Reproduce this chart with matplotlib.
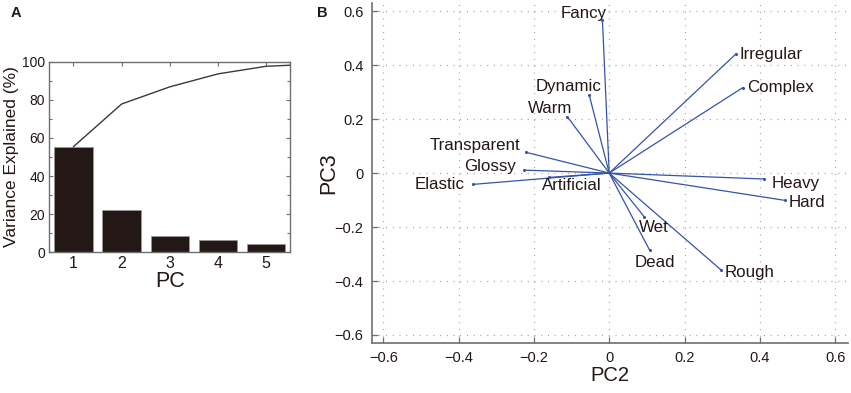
import matplotlib
matplotlib.use("Agg")
import matplotlib.pyplot as plt
from matplotlib.ticker import MultipleLocator

plt.rcParams['font.family'] = ['Liberation Sans', 'DejaVu Sans']

# ---- Panel A data ----
pcs = [1, 2, 3, 4, 5, 6]
variance = [55.4, 22.4, 8.8, 6.5, 4.1, 1.0]
cumulative = [55.4, 77.8, 86.8, 93.6, 97.6, 98.7]

# ---- Panel B data ----
words = ["Fancy", "Irregular", "Complex", "Dynamic", "Warm", "Transparent",
         "Glossy", "Elastic", "Artificial", "Heavy", "Hard", "Wet", "Dead", "Rough"]
pc2 = [-0.018, 0.336, 0.355, -0.053, -0.111, -0.221,
       -0.225, -0.362, -0.159, 0.412, 0.466, 0.093, 0.107, 0.297]
pc3 = [0.569, 0.441, 0.317, 0.289, 0.209, 0.077,
       0.011, -0.042, -0.016, -0.022, -0.101, -0.162, -0.285, -0.359]

# label placement (pixel offsets, alignment)
label_style = {
    "Fancy": (4, 6, "right"),
    "Irregular": (4, 0, "left"),
    "Complex": (4, 0, "left"),
    "Dynamic": (12, 9, "right"),
    "Warm": (5, 8, "right"),
    "Transparent": (-6, 7, "right"),
    "Glossy": (-8, 4, "right"),
    "Elastic": (-8, 0, "right"),
    "Artificial": (-7, -8, "left"),
    "Heavy": (7, -4, "left"),
    "Hard": (4, -2, "left"),
    "Wet": (-5, -11, "left"),
    "Dead": (-15, -13, "left"),
    "Rough": (4, -3, "left"),
}

txt = '#231815'
spine_c = '#6f6f6f'
blue = '#3553a8'

fig = plt.figure(figsize=(8.51, 3.93), dpi=100)

# ---------------- Panel A ----------------
axA = fig.add_axes([0.058, 0.358, 0.283, 0.485])
axA.bar(pcs, variance, width=0.8, color='#231815', edgecolor='#9a9a9a', linewidth=0.5, zorder=2)
axA.plot(pcs, cumulative, color='#3a3a3a', linewidth=1.0, zorder=3)
axA.set_xlim(0.5, 5.5)
axA.set_ylim(0, 100)
axA.set_xticks([1, 2, 3, 4, 5])
axA.set_yticks([0, 20, 40, 60, 80, 100])
axA.yaxis.set_minor_locator(MultipleLocator(10))
axA.tick_params(axis='both', which='both', direction='in', top=True, right=True,
                color=spine_c, labelcolor=txt)
axA.tick_params(axis='x', labelsize=11.5, pad=3)
axA.tick_params(axis='y', labelsize=10, pad=3)
axA.tick_params(which='major', length=3, width=0.8)
axA.tick_params(which='minor', length=2, width=0.8)
for s in axA.spines.values():
    s.set_color(spine_c)
    s.set_linewidth(1.0)
axA.set_xlabel("PC", fontsize=15.5, color=txt)
axA.xaxis.set_label_coords(0.5, -0.10)
axA.set_ylabel("Variance Explained (%)", fontsize=12.5, color=txt, labelpad=2)

fig.text(0.012, 0.968, "A", fontsize=10.5, fontweight='bold', color=txt, va='center', ha='left')

# ---------------- Panel B ----------------
axB = fig.add_axes([0.437, 0.127, 0.5595, 0.8645])
for w, x, y in zip(words, pc2, pc3):
    axB.plot([0, x], [0, y], color=blue, linewidth=0.9, zorder=3)
    axB.plot([x], [y], marker='o', markersize=1.2, color=blue, zorder=3)
    dx, dy, ha = label_style[w]
    axB.annotate(w, (x, y), xytext=(dx, dy), textcoords='offset pixels',
                 ha=ha, va='center', fontsize=12.2, color=txt, zorder=4)

axB.set_xlim(-0.63, 0.634)
axB.set_ylim(-0.63, 0.629)
ticks = [-0.6, -0.4, -0.2, 0, 0.2, 0.4, 0.6]
tick_labels = ["\u22120.6", "\u22120.4", "\u22120.2", "0", "0.2", "0.4", "0.6"]
axB.set_xticks(ticks)
axB.set_yticks(ticks)
axB.set_xticklabels(tick_labels)
axB.set_yticklabels(tick_labels)
axB.grid(True, color='#a0a0a0', linestyle=(0, (0.8, 4.6)), linewidth=0.9)
axB.set_axisbelow(True)
axB.spines['top'].set_visible(False)
axB.spines['right'].set_visible(False)
for s in ['left', 'bottom']:
    axB.spines[s].set_color(spine_c)
    axB.spines[s].set_linewidth(1.2)
axB.tick_params(axis='both', direction='in', length=4, width=0.9, color=spine_c,
                labelsize=10.5, labelcolor=txt, pad=6)
axB.set_xlabel("PC2", fontsize=14.5, color=txt)
axB.xaxis.set_label_coords(0.5, -0.068)
axB.set_ylabel("PC3", fontsize=15.5, color=txt)
axB.yaxis.set_label_coords(-0.069, 0.5)

fig.text(0.379, 0.968, "B", fontsize=10.5, fontweight='bold', color=txt, va='center', ha='center')

fig.savefig("out.png", dpi=100)
